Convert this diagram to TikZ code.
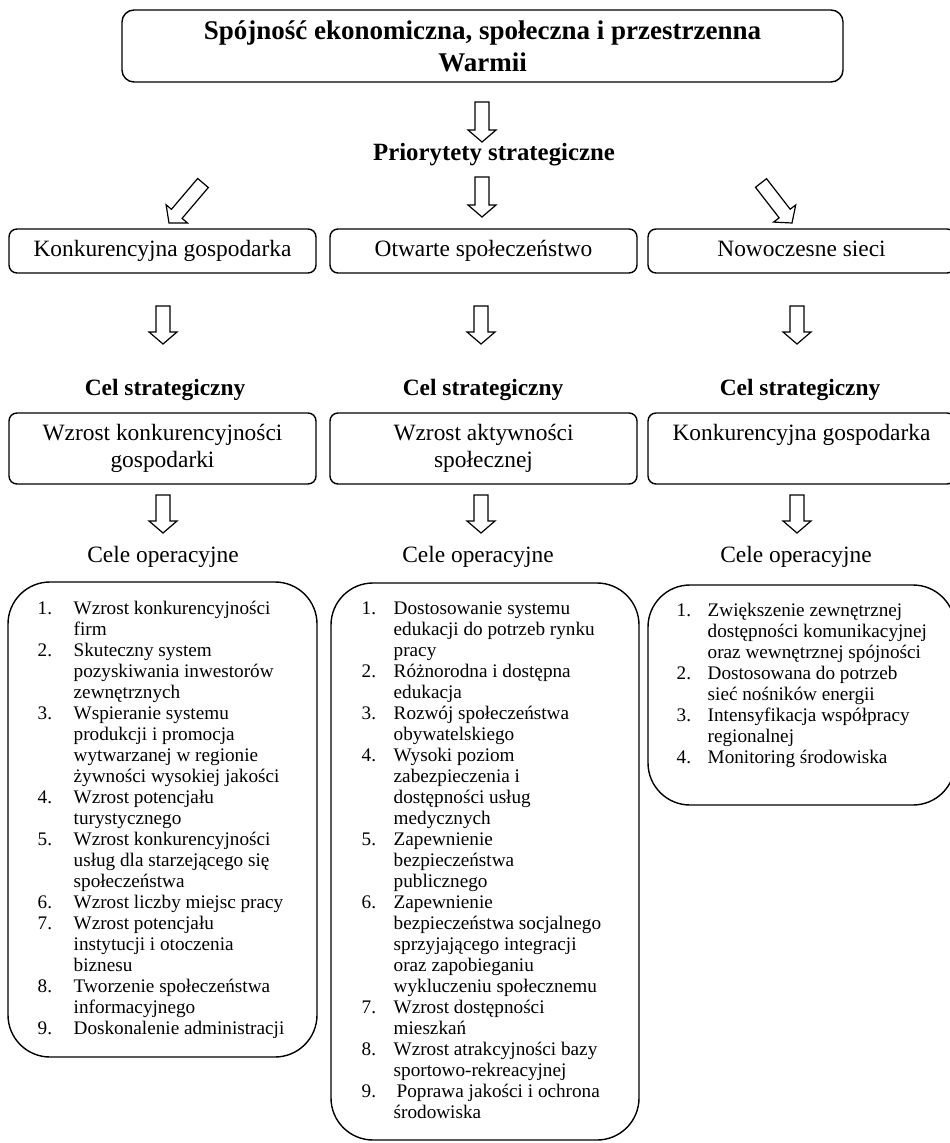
\documentclass[tikz,border=0pt]{standalone}
\usepackage{fontspec}
\setmainfont{Liberation Serif}
\usepackage{tikz}
\usetikzlibrary{calc, positioning}

\begin{document}
\begin{tikzpicture}[
        x=0.5pt, y=-0.5pt,
        topbox/.style={rectangle, draw, line width=0.7pt, rounded corners=6pt, minimum width=360.5pt, minimum height=36pt, align=center, font=\fontsize{13.5}{16}\selectfont\bfseries},
        box/.style={rectangle, draw, line width=0.7pt, rounded corners=4pt, minimum width=153.5pt, minimum height=22pt, inner sep=2pt, align=center, font=\fontsize{11.7}{13.5}\selectfont},
        priobox/.style={box, text height=8.5pt, text depth=3pt},
        goalbox/.style={box, minimum height=35.5pt},
        listbox/.style={rectangle, draw, line width=0.7pt, rounded corners=21pt},
        listtext/.style={inner sep=0pt, align=left, font=\fontsize{9.6}{10.5}\selectfont},
        heading/.style={font=\fontsize{12.4}{14}\selectfont\bfseries},
        goalhead/.style={font=\fontsize{11.7}{14}\selectfont\bfseries},
        subhead/.style={font=\fontsize{11.7}{14}\selectfont},
        hollow/.style={draw, line width=0.6pt, line join=miter, to path={
            ($(\tikztostart)!3.5pt!90:(\tikztotarget)$)
            -- ($(\tikztotarget)!6.946pt!-30.26:(\tikztostart)$)
            -- ($(\tikztotarget)!9.22pt!-49.4:(\tikztostart)$)
            -- (\tikztotarget)
            -- ($(\tikztotarget)!9.22pt!49.4:(\tikztostart)$)
            -- ($(\tikztotarget)!6.946pt!30.26:(\tikztostart)$)
            -- ($(\tikztostart)!3.5pt!-90:(\tikztotarget)$)
            -- cycle}}
    ]
        \useasboundingbox (0,0) rectangle (949,1143);

        % Top
        \node[topbox] (spojnosc) at (482.5,46) {Spójność ekonomiczna, społeczna i przestrzenna\\Warmii};
        \node[heading] (prio) at (494,155) {Priorytety strategiczne};

        % Priorities
        \node[priobox] (gosp) at (162.5,251) {Konkurencyjna gospodarka};
        \node[priobox] (spol) at (483.5,251) {Otwarte społeczeństwo};
        \node[priobox] (sieci) at (801.5,251) {Nowoczesne sieci};

        % Strategic goals
        \node[goalhead] (celA) at (165,390) {Cel strategiczny};
        \node[goalhead] (celB) at (483,390) {Cel strategiczny};
        \node[goalhead] (celC) at (800,390) {Cel strategiczny};
        \node[goalbox] (goalA) at (162.5,448.5) {Wzrost konkurencyjności\\gospodarki};
        \node[goalbox] (goalB) at (483.5,448.5) {Wzrost aktywności\\społecznej};
        \node[goalbox] (goalC) at (801.5,448.5) {Konkurencyjna gospodarka\\\vphantom{g}};

        % Operational goals
        \node[subhead] (opA) at (163,557) {Cele operacyjne};
        \node[subhead] (opB) at (478,557) {Cele operacyjne};
        \node[subhead] (opC) at (796,557) {Cele operacyjne};
        \node[listbox, minimum width=154.5pt, minimum height=237.5pt] (opsA) at (162.5,819.5) {};
        \node[listbox, minimum width=154pt, minimum height=278.5pt] (opsB) at (485,861.5) {};
        \node[listbox, minimum width=153.5pt, minimum height=110pt] (opsC) at (801.5,695) {};

        \node[listtext, below right=9pt and 15pt of opsA.north west] (listA) {%
            \begin{tabular}{@{}p{18pt}@{}l@{}}
            1. & Wzrost konkurencyjności\\
               & firm\\
            2. & Skuteczny system\\
               & pozyskiwania inwestorów\\
               & zewnętrznych\\
            3. & Wspieranie systemu\\
               & produkcji i promocja\\
               & wytwarzanej w regionie\\
               & żywności wysokiej jakości\\
            4. & Wzrost potencjału\\
               & turystycznego\\
            5. & Wzrost konkurencyjności\\
               & usług dla starzejącego się\\
               & społeczeństwa\\
            6. & Wzrost liczby miejsc pracy\\
            7. & Wzrost potencjału\\
               & instytucji i otoczenia\\
               & biznesu\\
            8. & Tworzenie społeczeństwa\\
               & informacyjnego\\
            9. & Doskonalenie administracji
            \end{tabular}};
        \node[listtext, below right=8.5pt and 15.5pt of opsB.north west] (listB) {%
            \begin{tabular}{@{}p{16pt}@{}l@{}}
            1. & Dostosowanie systemu\\
               & edukacji do potrzeb rynku\\
               & pracy\\
            2. & Różnorodna i dostępna\\
               & edukacja\\
            3. & Rozwój społeczeństwa\\
               & obywatelskiego\\
            4. & Wysoki poziom\\
               & zabezpieczenia i\\
               & dostępności usług\\
               & medycznych\\
            5. & Zapewnienie\\
               & bezpieczeństwa\\
               & publicznego\\
            6. & Zapewnienie\\
               & bezpieczeństwa socjalnego\\
               & sprzyjającego integracji\\
               & oraz zapobieganiu\\
               & wykluczeniu społecznemu\\
            7. & Wzrost dostępności\\
               & mieszkań\\
            8. & Wzrost atrakcyjności bazy\\
               & sportowo-rekreacyjnej\\
            9. & \hspace{1.5pt}Poprawa jakości i ochrona\\
               & środowiska
            \end{tabular}};
        \node[listtext, below right=8.5pt and 14.5pt of opsC.north west] (listC) {%
            \begin{tabular}{@{}p{15.5pt}@{}l@{}}
            1. & Zwiększenie zewnętrznej\\
               & dostępności komunikacyjnej\\
               & oraz wewnętrznej spójności\\
            2. & Dostosowana do potrzeb\\
               & sieć nośników energii\\
            3. & Intensyfikacja współpracy\\
               & regionalnej\\
            4. & Monitoring środowiska
            \end{tabular}};

        % Arrow ends
        \coordinate (a1s) at (482,102);  \coordinate (a1e) at (482,142);
        \coordinate (a2s) at (482,177);  \coordinate (a2e) at (482,217);
        \coordinate (a3s) at (203,183);  \coordinate (a3e) at (169,223);
        \coordinate (a4s) at (761,183);  \coordinate (a4e) at (792,223);
        \coordinate (b1s) at (163,306);  \coordinate (b1e) at (163,344);
        \coordinate (b2s) at (481,306);  \coordinate (b2e) at (481,344);
        \coordinate (b3s) at (797,306);  \coordinate (b3e) at (797,344);
        \coordinate (c1s) at (163,495);  \coordinate (c1e) at (163,533);
        \coordinate (c2s) at (481,495);  \coordinate (c2e) at (481,533);
        \coordinate (c3s) at (797,495);  \coordinate (c3e) at (797,533);

        % Arrows
        \draw[hollow] (a1s) to (a1e);
        \draw[hollow] (a2s) to (a2e);
        \draw[hollow] (a3s) to (a3e);
        \draw[hollow] (a4s) to (a4e);
        \draw[hollow] (b1s) to (b1e);
        \draw[hollow] (b2s) to (b2e);
        \draw[hollow] (b3s) to (b3e);
        \draw[hollow] (c1s) to (c1e);
        \draw[hollow] (c2s) to (c2e);
        \draw[hollow] (c3s) to (c3e);
    \end{tikzpicture}
\end{document}
